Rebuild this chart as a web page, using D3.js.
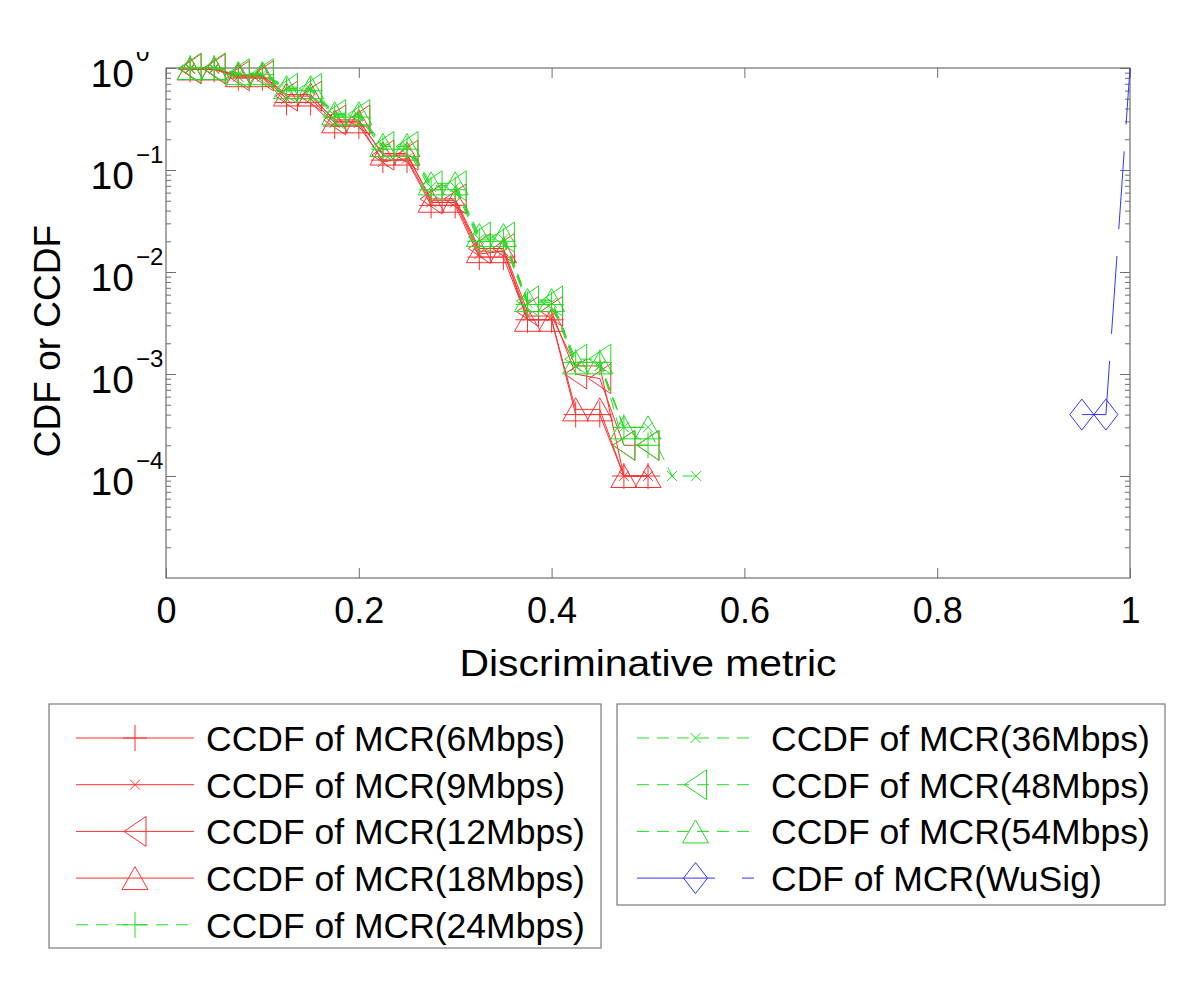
<!DOCTYPE html>
<html><head><meta charset="utf-8">
<script src="https://cdn.jsdelivr.net/npm/d3@7"></script>
<style>body{margin:0;background:#fff}</style>
</head><body>
<svg id="chart" width="1200" height="993"></svg>
<script>
// ---------------- data ----------------
const xGrid   = [0.025,0.05,0.075,0.1,0.125,0.15,0.175,0.2,0.225,0.25,0.275,0.3,0.325,0.35,0.375,0.4,0.425,0.45,0.475,0.5];
const xGrid36 = [0.025,0.05,0.075,0.1,0.125,0.15,0.175,0.2,0.225,0.25,0.275,0.3,0.325,0.35,0.375,0.4,0.425,0.45,0.475,0.5,0.525,0.55];
const ccdf6   = [0.97,0.97,0.80,0.80,0.46,0.46,0.27,0.27,0.125,0.125,0.045,0.045,0.014,0.014,0.0034,0.0034,0.0004,0.0004,0.0001,0.0001];
const ccdf9   = [0.98,0.98,0.82,0.82,0.50,0.50,0.29,0.29,0.12,0.13,0.048,0.048,0.015,0.016,0.0037,0.0037,0.0012,0.0012,0.0001,0.0001];
const ccdf12  = [0.98,0.98,0.84,0.84,0.53,0.53,0.31,0.31,0.14,0.14,0.052,0.052,0.017,0.017,0.0041,0.0041,0.0010,0.0009,0.0002,0.0002];
const ccdf18  = [0.99,0.99,0.85,0.85,0.55,0.55,0.30,0.30,0.145,0.145,0.050,0.050,0.016,0.016,0.0034,0.0034,0.00045,0.00045,0.0001,0.0001];
const ccdf24  = [1.0,1.0,0.86,0.86,0.60,0.60,0.33,0.33,0.16,0.16,0.064,0.064,0.020,0.020,0.0048,0.0048,0.0013,0.0013,0.0003,0.0002];
const ccdf36  = [1.0,1.0,0.87,0.87,0.62,0.62,0.34,0.34,0.17,0.17,0.068,0.068,0.021,0.021,0.0050,0.0050,0.0012,0.0012,0.0003,0.0003,0.0001,0.0001];
const ccdf48  = [1.0,1.0,0.88,0.88,0.63,0.63,0.35,0.35,0.17,0.17,0.070,0.070,0.022,0.022,0.0052,0.0052,0.0014,0.0014,0.0002,0.0002];
const ccdf54  = [1.0,1.0,0.89,0.89,0.65,0.65,0.36,0.36,0.176,0.176,0.074,0.074,0.023,0.023,0.0053,0.0053,0.0013,0.0013,0.0003,0.0003];
const xWuSig  = [0.95,0.975,1.0];
const cdfWuSig= [0.0004,0.0004,1.0];
const wuSigMarked = [0,1];

const xTicks = [0,0.2,0.4,0.6,0.8,1];
const xTickLabels = ["0","0.2","0.4","0.6","0.8","1"];
const yMajor = [1,0.1,0.01,0.001,0.0001];
const yExponents = ["0","\u22121","\u22122","\u22123","\u22124"];
const labelsLeft  = ["CCDF of MCR(6Mbps)","CCDF of MCR(9Mbps)","CCDF of MCR(12Mbps)","CCDF of MCR(18Mbps)","CCDF of MCR(24Mbps)"];
const labelsRight = ["CCDF of MCR(36Mbps)","CCDF of MCR(48Mbps)","CCDF of MCR(54Mbps)","CDF of MCR(WuSig)"];

// ---------------- styles ----------------
const RED="#ff2f2f", GREEN="#22dd22", BLUE="#3535ff";
const FONT="'Liberation Sans', Arial, sans-serif";
const series = [
  {label:labelsLeft[0],  x:xGrid,   y:ccdf6,  color:RED,   dash:null,   marker:"plus"},
  {label:labelsLeft[1],  x:xGrid,   y:ccdf9,  color:RED,   dash:null,   marker:"x"},
  {label:labelsLeft[2],  x:xGrid,   y:ccdf12, color:RED,   dash:null,   marker:"left"},
  {label:labelsLeft[3],  x:xGrid,   y:ccdf18, color:RED,   dash:null,   marker:"up"},
  {label:labelsLeft[4],  x:xGrid,   y:ccdf24, color:GREEN, dash:"12,8", marker:"plus"},
  {label:labelsRight[0], x:xGrid36, y:ccdf36, color:GREEN, dash:"12,8", marker:"x"},
  {label:labelsRight[1], x:xGrid,   y:ccdf48, color:GREEN, dash:"12,8", marker:"left"},
  {label:labelsRight[2], x:xGrid,   y:ccdf54, color:GREEN, dash:"12,8", marker:"up"},
  {label:labelsRight[3], x:xWuSig,  y:cdfWuSig, color:BLUE, dash:"78,27", marker:"diamond", marked:wuSigMarked}
];
const markerPath = {
  plus:"M-12,0H12M0,-13V13",
  x:"M-5,-5L5,5M-5,5L5,-5",
  left:"M-11,0L11,-15L11,15Z",
  up:"M0,-11.5L13,11.5L-13,11.5Z",
  diamond:"M0,-15.5L12,0L0,15.5L-12,0Z"
};

const svg = d3.select("#chart");
const X0=166, X1=1130, Y0=68, Y1=578;
const x = d3.scaleLinear().domain([0,1]).range([X0,X1]);
const y = d3.scaleLog().domain([1e-5,1]).range([Y1,Y0]);

svg.append("defs").append("clipPath").attr("id","clipTop")
  .append("rect").attr("x",0).attr("y",52).attr("width",1200).attr("height",941);
const root = svg.append("g").attr("clip-path","url(#clipTop)");

// axes & ticks
const AX="#6e6e6e";
const minor=[];
for (let e=-5;e<0;e++) for (let m=2;m<=9;m++) minor.push(m*Math.pow(10,e));
function styleAxis(g){ g.select(".domain").remove(); g.selectAll("line").attr("stroke",AX); }
root.append("g").attr("transform",`translate(${X0},0)`)
  .call(d3.axisLeft(y).tickValues(yMajor).tickSize(-10).tickFormat("")).call(styleAxis);
root.append("g").attr("transform",`translate(${X0},0)`)
  .call(d3.axisLeft(y).tickValues(minor).tickSize(-5).tickFormat("")).call(styleAxis);
root.append("g").attr("transform",`translate(${X1},0)`)
  .call(d3.axisRight(y).tickValues(yMajor).tickSize(-10).tickFormat("")).call(styleAxis);
root.append("g").attr("transform",`translate(${X1},0)`)
  .call(d3.axisRight(y).tickValues(minor).tickSize(-5).tickFormat("")).call(styleAxis);
root.append("g").attr("transform",`translate(0,${Y0})`)
  .call(d3.axisTop(x).tickValues(xTicks).tickSize(-10).tickFormat("")).call(styleAxis);
const xb = root.append("g").attr("transform",`translate(0,${Y1})`)
  .call(d3.axisBottom(x).tickValues(xTicks).tickSize(-10).tickPadding(19)
        .tickFormat((d,i)=>xTickLabels[i]));
xb.call(styleAxis);
xb.selectAll("text").attr("font-family",FONT).attr("font-size",36).attr("fill","#000");

root.append("rect").attr("x",X0).attr("y",Y0).attr("width",X1-X0).attr("height",Y1-Y0)
  .attr("fill","none").attr("stroke",AX).attr("stroke-width",1.2);

// y tick labels 10^n
const yl = root.append("g").attr("font-family",FONT).attr("fill","#000");
yMajor.forEach((v,i)=>{
  const ty=y(v);
  yl.append("text").attr("x",134).attr("y",ty+19).attr("text-anchor","end")
    .attr("font-size",39).text("10");
  yl.append("text").attr("x",136).attr("y",ty-7).attr("font-size",24).text(yExponents[i]);
});

// axis titles
root.append("text").attr("x",(X0+X1)/2).attr("y",676).attr("text-anchor","middle")
  .attr("font-family",FONT).attr("font-size",36).attr("textLength",377)
  .attr("lengthAdjust","spacingAndGlyphs").text("Discriminative metric");
root.append("text").attr("transform","translate(60,341) rotate(-90)").attr("text-anchor","middle")
  .attr("font-family",FONT).attr("font-size",37).text("CDF or CCDF");

// series
const line = d3.line().x(d=>x(d[0])).y(d=>y(d[1]));
const plot = root.append("g");
series.forEach(s=>{
  const pts = s.x.map((xv,i)=>[xv,s.y[i]]);
  plot.append("path").attr("d",line(pts)).attr("fill","none").attr("stroke",s.color)
    .attr("stroke-width",1).attr("stroke-dasharray",s.dash);
  const mp = s.marked ? s.marked.map(i=>pts[i]) : pts;
  plot.selectAll(null).data(mp).enter().append("path")
    .attr("d",markerPath[s.marker]).attr("transform",d=>`translate(${x(d[0])},${y(d[1])})`)
    .attr("fill","none").attr("stroke",s.color).attr("stroke-width",1);
});

// legends
function legend(box, rows, lineX0, lineX1, textX){
  const g = svg.append("g");
  g.append("rect").attr("x",box[0]).attr("y",box[1]).attr("width",box[2]).attr("height",box[3])
    .attr("fill","#fff").attr("stroke","#7a7a7a").attr("stroke-width",1.2);
  rows.forEach((s,i)=>{
    const cy = 738 + i*46.7;
    g.append("line").attr("x1",lineX0).attr("x2",lineX1).attr("y1",cy).attr("y2",cy)
      .attr("stroke",s.color).attr("stroke-width",1).attr("stroke-dasharray",s.dash);
    g.append("path").attr("d",markerPath[s.marker])
      .attr("transform",`translate(${(lineX0+lineX1)/2},${cy})`)
      .attr("fill","none").attr("stroke",s.color).attr("stroke-width",1);
    g.append("text").attr("x",textX).attr("y",cy+13).attr("font-family",FONT)
      .attr("font-size",35.5).attr("fill","#000").text(s.label);
  });
}
legend([49,704,552,244], series.slice(0,5), 76, 194, 206);
legend([617,704,548,201], series.slice(5), 637, 754, 771);
</script>
</body></html>
